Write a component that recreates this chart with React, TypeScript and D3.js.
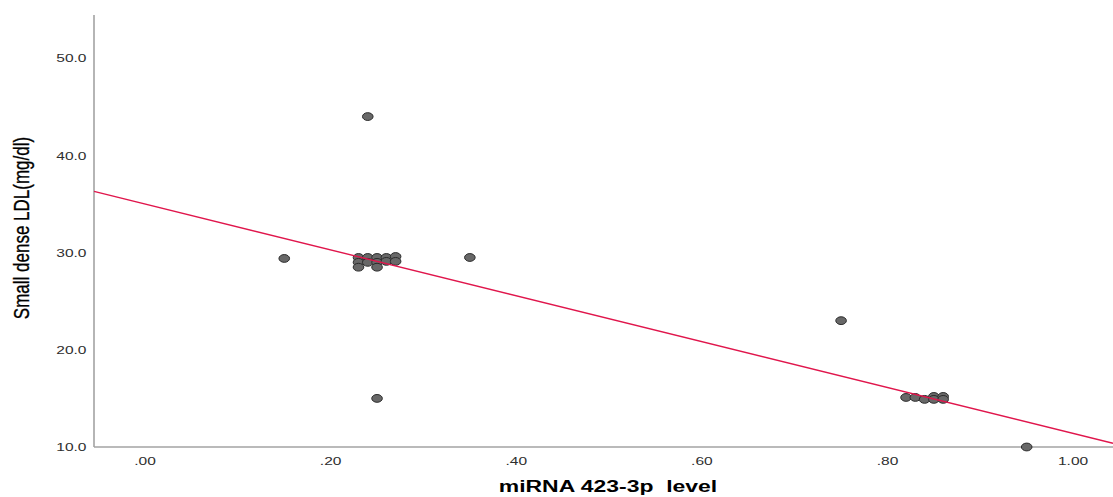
import React, { useEffect, useRef } from 'react';
import * as d3 from 'd3';

// miRNA 423-3p level vs small dense LDL
const mirnaLevel = [
  0.15, 0.24, 0.25, 0.35, 0.75, 0.95,
  0.23, 0.23, 0.23, 0.24, 0.24, 0.25, 0.25, 0.25, 0.26, 0.26, 0.27, 0.27,
  0.82, 0.83, 0.84, 0.85, 0.85, 0.86, 0.86
];
const sdLdl = [
  29.4, 44.0, 15.0, 29.5, 23.0, 10.0,
  29.5, 29.0, 28.5, 29.5, 29.0, 29.5, 29.0, 28.5, 29.5, 29.1, 29.6, 29.1,
  15.1, 15.1, 14.9, 15.2, 14.9, 15.2, 14.9
];

// fit line (linear) shown in red
const fitIntercept = 35.0;
const fitSlope = -23.6;

const xTicks = [0, 0.2, 0.4, 0.6, 0.8, 1.0];
const xTickLabels = ['.00', '.20', '.40', '.60', '.80', '1.00'];
const yTicks = [10, 20, 30, 40, 50];
const yTickLabels = ['10.0', '20.0', '30.0', '40.0', '50.0'];

const W = 1113;
const H = 497;
// the source picture is stretched sideways, so text gets the same stretch
const STRETCH = 1.35;

const App = () => {
  const svgRef = useRef<SVGSVGElement | null>(null);

  useEffect(() => {
    if (!svgRef.current) return;
    const svg = d3.select(svgRef.current);
    svg.selectAll('*').remove();

    const x = d3.scaleLinear().domain([-0.055, 1.043]).range([94, W]);
    const y = d3.scaleLinear().domain([10, 54.45]).range([447, 15]);

    const font = '"Liberation Sans", Arial, sans-serif';

    // axes (plain lines, no tick marks)
    svg.append('line')
      .attr('x1', x.range()[0]).attr('x2', x.range()[0])
      .attr('y1', y.range()[1]).attr('y2', y.range()[0])
      .attr('stroke', '#a3a3a3').attr('stroke-width', 1.6);
    svg.append('line')
      .attr('x1', x.range()[0]).attr('x2', x.range()[1])
      .attr('y1', y.range()[0]).attr('y2', y.range()[0])
      .attr('stroke', '#a3a3a3').attr('stroke-width', 1.6);

    // y tick labels
    svg.selectAll('.ytick')
      .data(yTicks)
      .enter()
      .append('text')
      .attr('class', 'ytick')
      .attr('transform', d => `translate(86.5,${y(d)}) scale(${STRETCH},1)`)
      .attr('text-anchor', 'end')
      .attr('dy', '0.36em')
      .attr('font-family', font)
      .attr('font-size', '11.5px')
      .attr('fill', '#2e2e2e')
      .text((d, i) => yTickLabels[i]);

    // x tick labels
    svg.selectAll('.xtick')
      .data(xTicks)
      .enter()
      .append('text')
      .attr('class', 'xtick')
      .attr('transform', d => `translate(${x(d)},465) scale(${STRETCH},1)`)
      .attr('text-anchor', 'middle')
      .attr('font-family', font)
      .attr('font-size', '11.5px')
      .attr('fill', '#2e2e2e')
      .text((d, i) => xTickLabels[i]);

    // axis titles
    svg.append('text')
      .attr('transform', `translate(29,228) scale(${STRETCH},1) rotate(-90)`)
      .attr('text-anchor', 'middle')
      .attr('font-family', font)
      .attr('font-size', '17px')
      .attr('fill', '#000')
      .attr('stroke', '#000')
      .attr('stroke-width', 0.25)
      .text('Small dense LDL(mg/dl)');

    svg.append('text')
      .attr('transform', `translate(608,492) scale(${STRETCH},1)`)
      .attr('text-anchor', 'middle')
      .attr('font-family', font)
      .attr('font-size', '17px')
      .attr('font-weight', 'bold')
      .attr('fill', '#000')
      .style('white-space', 'pre')
      .text('miRNA 423-3p  level');

    // points
    const pts = mirnaLevel.map((v, i) => ({ v, s: sdLdl[i] }));
    svg.selectAll('.pt')
      .data(pts)
      .enter()
      .append('ellipse')
      .attr('class', 'pt')
      .attr('cx', d => x(d.v))
      .attr('cy', d => y(d.s))
      .attr('rx', 5.3)
      .attr('ry', 3.9)
      .attr('fill', '#686868')
      .attr('stroke', '#2b2b2b')
      .attr('stroke-width', 1);

    // fit line on top
    const [x0, x1] = x.domain();
    const line = d3.line<number>()
      .x(d => x(d))
      .y(d => y(fitIntercept + fitSlope * d));
    svg.append('path')
      .attr('d', line([x0, x1]))
      .attr('fill', 'none')
      .attr('stroke', '#e0164c')
      .attr('stroke-width', 1.4);
  }, []);

  return (
    <div style={{ position: 'fixed', left: 0, top: 0, width: W, height: H, background: '#fff' }}>
      <svg ref={svgRef} width={W} height={H} />
    </div>
  );
};

export default App;
